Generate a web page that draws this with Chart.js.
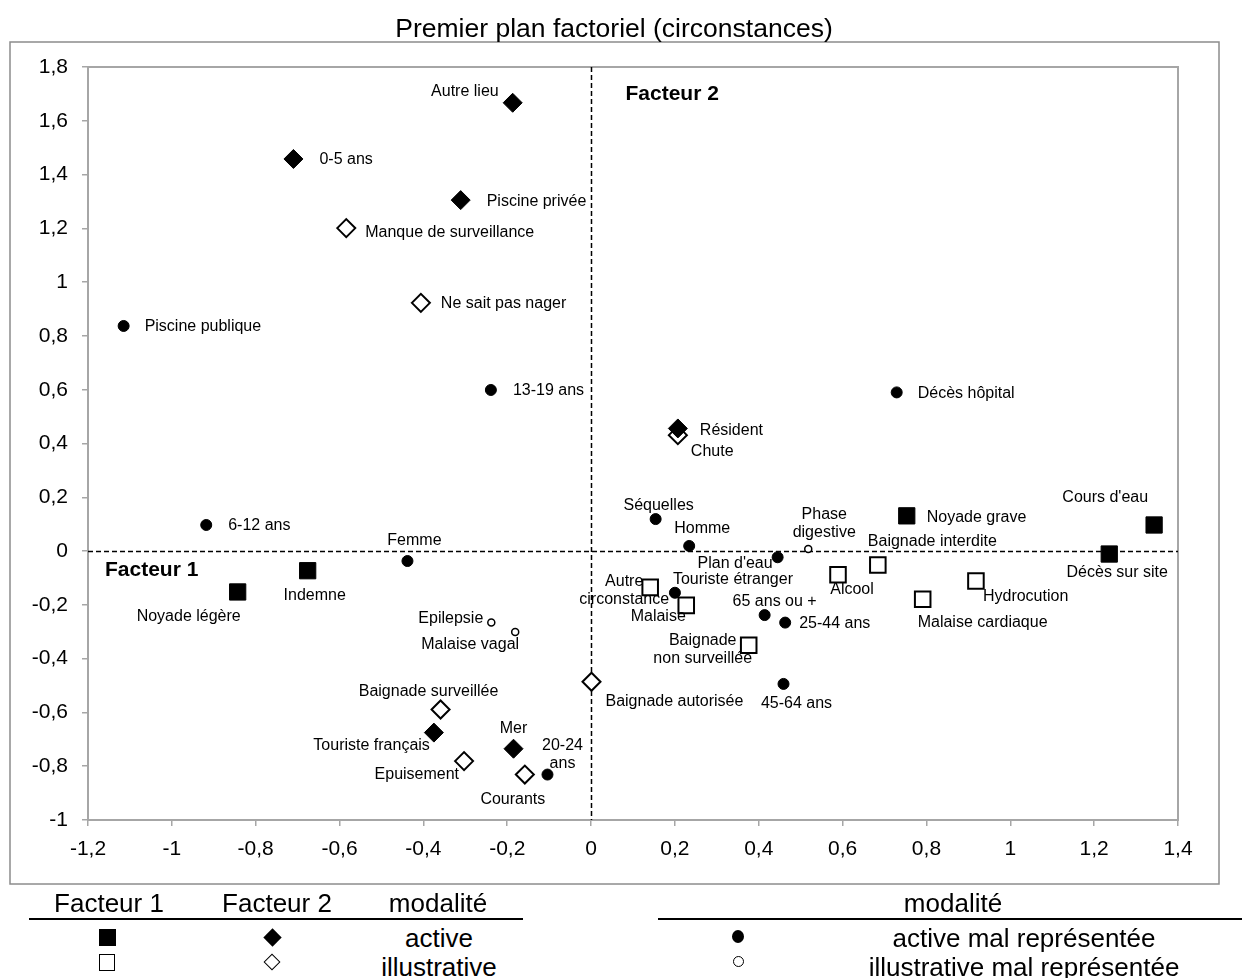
<!DOCTYPE html>
<html lang="fr">
<head>
<meta charset="utf-8">
<title>Premier plan factoriel (circonstances)</title>
<script src="https://cdn.jsdelivr.net/npm/chart.js@4.4.1/dist/chart.umd.min.js"></script>
<style>
  html, body { margin: 0; padding: 0; background: #fff; }
  body { width: 1242px; height: 978px; position: relative; overflow: hidden;
         font-family: "Liberation Sans", Arial, sans-serif; color: #000; }
  #wrap { position: absolute; left: 0; top: 0; width: 1242px; height: 890px; }
  .lg { position: absolute; font-size: 26px; line-height: 30px; white-space: nowrap;
        transform: translate(-50%, -50%); }
  .rule { position: absolute; height: 2px; background: #000; }
  .sym { position: absolute; box-sizing: border-box; }
</style>
</head>
<body>
<div id="wrap"><canvas id="plan"></canvas></div>

<!-- tableau des symboles -->
<div class="lg" style="left:109px; top:903px">Facteur 1</div>
<div class="lg" style="left:277px; top:903px">Facteur 2</div>
<div class="lg" style="left:438px; top:903px">modalité</div>
<div class="rule" style="left:29px; top:918px; width:494px"></div>
<div class="sym" style="left:99px; top:929px; width:17px; height:17px; background:#000"></div>
<div class="sym" style="left:266px; top:931px; width:13px; height:13px; background:#000; transform:rotate(45deg)"></div>
<div class="lg" style="left:439px; top:938px">active</div>
<div class="sym" style="left:99px; top:954px; width:16px; height:17px; border:1px solid #000; background:#fff"></div>
<div class="sym" style="left:266px; top:956px; width:12px; height:12px; border:1px solid #000; background:#fff; transform:rotate(45deg)"></div>
<div class="lg" style="left:439px; top:967px">illustrative</div>

<div class="lg" style="left:953px; top:903px">modalité</div>
<div class="rule" style="left:658px; top:918px; width:584px"></div>
<div class="sym" style="left:732px; top:930px; width:12px; height:13px; border-radius:50%; background:#000"></div>
<div class="lg" style="left:1024px; top:938px">active mal représentée</div>
<div class="sym" style="left:733px; top:956px; width:11px; height:11px; border-radius:50%; border:1px solid #000; background:#fff"></div>
<div class="lg" style="left:1024px; top:967px">illustrative mal représentée</div>

<script>
const chartTitle = 'Premier plan factoriel (circonstances)';

// axes
const xTickValues = [-1.2, -1, -0.8, -0.6, -0.4, -0.2, 0, 0.2, 0.4, 0.6, 0.8, 1, 1.2, 1.4];
const xTickLabels = ['-1,2', '-1', '-0,8', '-0,6', '-0,4', '-0,2', '0', '0,2', '0,4', '0,6', '0,8', '1', '1,2', '1,4'];
const yTickValues = [-1, -0.8, -0.6, -0.4, -0.2, 0, 0.2, 0.4, 0.6, 0.8, 1, 1.2, 1.4, 1.6, 1.8];
const yTickLabels = ['-1', '-0,8', '-0,6', '-0,4', '-0,2', '0', '0,2', '0,4', '0,6', '0,8', '1', '1,2', '1,4', '1,6', '1,8'];

// Facteur 1 - modalités actives (carrés pleins)
const actF1Names = ['Noyade légère', 'Indemne', 'Noyade grave', "Cours d'eau", 'Décès sur site'];
const actF1X = [-0.843, -0.676, 0.753, 1.343, 1.236];
const actF1Y = [-0.152, -0.073, 0.131, 0.097, -0.011];

// Facteur 1 - modalités illustratives (carrés vides)
const illF1Names = ['Autre\ncirconstance', 'Malaise', 'Alcool', 'Baignade interdite', 'Hydrocution', 'Malaise cardiaque', 'Baignade\nnon surveillée'];
const illF1X = [0.141, 0.227, 0.589, 0.684, 0.918, 0.791, 0.376];
const illF1Y = [-0.135, -0.202, -0.088, -0.052, -0.111, -0.179, -0.350];

// Facteur 2 - modalités actives (losanges pleins)
const actF2Names = ['Autre lieu', '0-5 ans', 'Piscine privée', 'Résident', 'Touriste français', 'Mer'];
const actF2X = [-0.187, -0.710, -0.311, 0.207, -0.375, -0.185];
const actF2Y = [1.667, 1.458, 1.305, 0.456, -0.675, -0.735];

// Facteur 2 - modalités illustratives (losanges vides)
const illF2Names = ['Manque de surveillance', 'Ne sait pas nager', 'Chute', 'Baignade autorisée', 'Baignade surveillée', 'Epuisement', 'Courants'];
const illF2X = [-0.584, -0.406, 0.207, 0.001, -0.359, -0.303, -0.158];
const illF2Y = [1.201, 0.923, 0.431, -0.486, -0.589, -0.781, -0.831];

// actives mal représentées (ronds pleins)
const actMalNames = ['Piscine publique', '13-19 ans', '6-12 ans', 'Femme', 'Décès hôpital', 'Séquelles', 'Homme', "Plan d'eau", 'Touriste étranger', '65 ans ou +', '25-44 ans', '45-64 ans', '20-24\nans'];
const actMalX = [-1.115, -0.239, -0.918, -0.438, 0.729, 0.154, 0.234, 0.445, 0.200, 0.414, 0.463, 0.459, -0.104];
const actMalY = [0.837, 0.599, 0.097, -0.037, 0.590, 0.119, 0.019, -0.023, -0.155, -0.238, -0.266, -0.494, -0.831];

// illustratives mal représentées (petits ronds vides)
const illMalNames = ['Epilepsie', 'Malaise vagal', 'Phase\ndigestive'];
const illMalX = [-0.238, -0.181, 0.518];
const illMalY = [-0.266, -0.301, 0.008];

// placement des étiquettes : décalage en px par rapport au point, alignement
const labelPos = {
    'Noyade légère': [-49, 25, 'center'],
    'Indemne': [7, 25, 'center'],
    'Noyade grave': [20, 2, 'left'],
    "Cours d'eau": [-6, -27, 'right'],
    'Décès sur site': [8, 19, 'center'],
    'Autre\ncirconstance': [-26, -6, 'center'],
    'Malaise': [-28, 11, 'center'],
    'Alcool': [14, 15, 'center'],
    'Baignade interdite': [-10, -23, 'left'],
    'Hydrocution': [7, 16, 'left'],
    'Malaise cardiaque': [-5, 23, 'left'],
    'Baignade\nnon surveillée': [-46, -5, 'center'],
    'Autre lieu': [-14, -11, 'right'],
    '0-5 ans': [26, 1, 'left'],
    'Piscine privée': [26, 1, 'left'],
    'Résident': [22, 2, 'left'],
    'Touriste français': [-4, 13, 'right'],
    'Mer': [0, -20, 'center'],
    'Manque de surveillance': [19, 5, 'left'],
    'Ne sait pas nager': [20, 1, 'left'],
    'Chute': [13, 16, 'left'],
    'Baignade autorisée': [14, 20, 'left'],
    'Baignade surveillée': [-12, -18, 'center'],
    'Epuisement': [-5, 13, 'right'],
    'Courants': [-12, 25, 'center'],
    'Piscine publique': [21, 1, 'left'],
    '13-19 ans': [22, 1, 'left'],
    '6-12 ans': [22, 1, 'left'],
    'Femme': [7, -20, 'center'],
    'Décès hôpital': [21, 1, 'left'],
    'Séquelles': [3, -13, 'center'],
    'Homme': [13, -17, 'center'],
    "Plan d'eau": [-5, 6, 'right'],
    'Touriste étranger': [-2, -13, 'left'],
    '65 ans ou +': [10, -13, 'center'],
    '25-44 ans': [14, 1, 'left'],
    '45-64 ans': [13, 20, 'center'],
    '20-24\nans': [15, -29, 'center'],
    'Epilepsie': [-8, -4, 'right'],
    'Malaise vagal': [-45, 13, 'center'],
    'Phase\ndigestive': [16, -34, 'center']
};

const FONT = '"Liberation Sans", Arial, sans-serif';

function pts(xs, ys) {
    return xs.map((x, i) => ({ x: x, y: ys[i] }));
}

const decor = {
    id: 'decor',
    beforeDraw(chart) {
        const ctx = chart.ctx;
        ctx.save();
        ctx.strokeStyle = '#8c8c8c';
        ctx.lineWidth = 1.5;
        ctx.strokeRect(10, 42, 1209, 842);
        ctx.fillStyle = '#000';
        ctx.font = '26.5px ' + FONT;
        ctx.textAlign = 'center';
        ctx.textBaseline = 'alphabetic';
        ctx.fillText(chartTitle, 614, 37);
        ctx.restore();
    },
    beforeDatasetsDraw(chart) {
        const ctx = chart.ctx, a = chart.chartArea;
        const xs = chart.scales.x, ys = chart.scales.y;
        ctx.save();
        ctx.strokeStyle = '#a6a6a6';
        ctx.lineWidth = 2;
        ctx.strokeRect(a.left, a.top, a.right - a.left, a.bottom - a.top);
        // axes en pointillés
        ctx.strokeStyle = '#000';
        ctx.lineWidth = 1.5;
        ctx.setLineDash([5, 3]);
        const x0 = Math.round(xs.getPixelForValue(0)) + 0.5;
        const y0 = Math.round(ys.getPixelForValue(0)) + 0.5;
        ctx.beginPath();
        ctx.moveTo(x0, a.top); ctx.lineTo(x0, a.bottom);
        ctx.moveTo(a.left, y0); ctx.lineTo(a.right, y0);
        ctx.stroke();
        ctx.setLineDash([]);
        // noms des facteurs
        ctx.fillStyle = '#000';
        ctx.font = 'bold 21px ' + FONT;
        ctx.textAlign = 'left';
        ctx.textBaseline = 'middle';
        ctx.fillText('Facteur 1', xs.getPixelForValue(-1.2) + 17, y0 + 19);
        ctx.fillText('Facteur 2', x0 + 34, ys.getPixelForValue(1.7));
        ctx.restore();
    },
    afterDatasetsDraw(chart) {
        const ctx = chart.ctx;
        ctx.save();
        ctx.fillStyle = '#000';
        ctx.font = '16px ' + FONT;
        ctx.textBaseline = 'middle';
        chart.data.datasets.forEach((ds, di) => {
            const meta = chart.getDatasetMeta(di);
            ds.names.forEach((name, i) => {
                const p = labelPos[name] || [12, 0, 'left'];
                const el = meta.data[i];
                ctx.textAlign = p[2];
                name.split('\n').forEach((line, k) => {
                    ctx.fillText(line, el.x + p[0], el.y + p[1] + k * 18);
                });
            });
        });
        ctx.restore();
    }
};

new Chart(document.getElementById('plan'), {
    type: 'scatter',
    data: {
        datasets: [
            { names: actMalNames, data: pts(actMalX, actMalY), pointStyle: 'circle', pointRadius: 5.5,
              backgroundColor: '#000', borderColor: '#000', borderWidth: 1 },
            { names: illMalNames, data: pts(illMalX, illMalY), pointStyle: 'circle', pointRadius: 3.5,
              backgroundColor: '#fff', borderColor: '#000', borderWidth: 1.5 },
            { names: actF1Names, data: pts(actF1X, actF1Y), pointStyle: 'rect', pointRadius: 11.5,
              backgroundColor: '#000', borderColor: '#000', borderWidth: 1 },
            { names: actF2Names, data: pts(actF2X, actF2Y), pointStyle: 'rectRot', pointRadius: 9.5,
              backgroundColor: '#000', borderColor: '#000', borderWidth: 1 },
            { names: illF1Names, data: pts(illF1X, illF1Y), pointStyle: 'rect', pointRadius: 11,
              backgroundColor: '#fff', borderColor: '#000', borderWidth: 2 },
            { names: illF2Names, data: pts(illF2X, illF2Y), pointStyle: 'rectRot', pointRadius: 9,
              backgroundColor: '#fff', borderColor: '#000', borderWidth: 2 }
        ]
    },
    options: {
        responsive: true,
        maintainAspectRatio: false,
        animation: false,
        events: [],
        layout: { padding: { left: 28, top: 67, right: 64, bottom: 30 } },
        plugins: {
            legend: { display: false },
            tooltip: { enabled: false },
            title: { display: false }
        },
        scales: {
            x: {
                type: 'linear',
                min: -1.2,
                max: 1.4,
                afterBuildTicks: s => { s.ticks = xTickValues.map(v => ({ value: v })); },
                afterFit: s => { s.height = 40; },
                ticks: {
                    callback: (v, i) => xTickLabels[i],
                    color: '#000',
                    font: { family: FONT, size: 21 },
                    padding: 11,
                    maxRotation: 0,
                    autoSkip: false
                },
                grid: { drawOnChartArea: false, drawTicks: true, tickLength: 6, color: '#a6a6a6', lineWidth: 1.5 },
                border: { display: false }
            },
            y: {
                type: 'linear',
                min: -1,
                max: 1.8,
                afterBuildTicks: s => { s.ticks = yTickValues.map(v => ({ value: v })); },
                afterFit: s => { s.width = 60; },
                ticks: {
                    callback: (v, i) => yTickLabels[i],
                    color: '#000',
                    font: { family: FONT, size: 21 },
                    padding: 14,
                    autoSkip: false
                },
                grid: { drawOnChartArea: false, drawTicks: true, tickLength: 6, color: '#a6a6a6', lineWidth: 1.5 },
                border: { display: false }
            }
        }
    },
    plugins: [decor]
});
</script>
</body>
</html>
